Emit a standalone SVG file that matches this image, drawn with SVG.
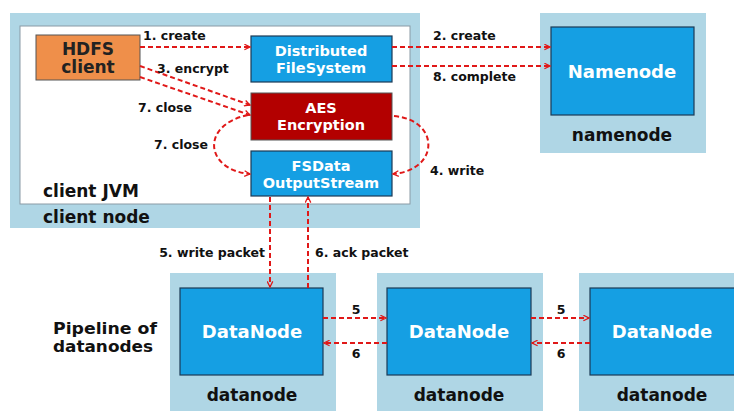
<svg xmlns="http://www.w3.org/2000/svg" width="734" height="411" viewBox="0 0 734 411">
<style>
text{font-family:"DejaVu Sans",Verdana,sans-serif;font-weight:bold}
.outer{fill:#afd6e5}
.blue{fill:#159fe3;stroke:#1c3a55;stroke-width:1.2}
.wt{fill:#fff;font-size:14.5px;text-anchor:middle}
.wb{fill:#fff;font-size:18px;text-anchor:middle}
.lbl{fill:#111;font-size:12.5px}
.big{fill:#111;font-size:17px}
.cn{stroke:#e01818;stroke-width:2;stroke-dasharray:5,3;fill:none;marker-end:url(#ah)}
</style>
<defs>
<marker id="ah" viewBox="0 0 10 10" refX="9" refY="5" markerWidth="7" markerHeight="7" orient="auto" markerUnits="userSpaceOnUse">
<path d="M1,1 L9,5 L1,9" fill="none" stroke="#e01818" stroke-width="1.8"/>
</marker>
</defs>
<rect width="734" height="411" fill="#fff"/>
<g id="client-node">
<rect class="outer" x="10" y="13" width="410" height="215"/>
<rect x="20" y="26" width="390" height="178" fill="#fff" stroke="#8a9aa5" stroke-width="1"/>
<text class="big" x="43" y="197">client JVM</text>
<text class="big" x="43" y="223">client node</text>
</g>
<g id="hdfs-client">
<rect x="36" y="35" width="104" height="45" fill="#ef8f4a" stroke="#555" stroke-width="1"/>
<text x="88" y="55" font-size="17" text-anchor="middle" fill="#222">HDFS</text>
<text x="88" y="73" font-size="17" text-anchor="middle" fill="#222">client</text>
</g>
<g id="distributed-fs">
<rect class="blue" x="251" y="36" width="141" height="46"/>
<text class="wt" x="321" y="56">Distributed</text>
<text class="wt" x="321" y="73">FileSystem</text>
</g>
<g id="aes">
<rect x="251" y="93" width="141" height="47" fill="#b30000" stroke="#555" stroke-width="1"/>
<text class="wt" x="321" y="113">AES</text>
<text class="wt" x="321" y="130">Encryption</text>
</g>
<g id="fsdata">
<rect class="blue" x="251" y="151" width="141" height="45"/>
<text class="wt" x="321" y="171">FSData</text>
<text class="wt" x="321" y="188">OutputStream</text>
</g>
<g id="namenode">
<rect class="outer" x="540" y="13" width="166" height="140"/>
<rect class="blue" x="551" y="27" width="143" height="88"/>
<text class="wb" x="622" y="78">Namenode</text>
<text class="big" x="622" y="141" text-anchor="middle">namenode</text>
</g>
<g id="datanode1">
<rect class="outer" x="170" y="273" width="166" height="145"/>
<rect class="blue" x="180" y="288" width="143" height="87"/>
<text class="wb" x="252" y="338">DataNode</text>
<text class="big" x="252" y="401" text-anchor="middle">datanode</text>
</g>
<g id="datanode2">
<rect class="outer" x="377" y="273" width="166" height="145"/>
<rect class="blue" x="387" y="288" width="144" height="87"/>
<text class="wb" x="459" y="338">DataNode</text>
<text class="big" x="459" y="401" text-anchor="middle">datanode</text>
</g>
<g id="datanode3">
<rect class="outer" x="579" y="273" width="166" height="145"/>
<rect class="blue" x="590" y="288" width="150" height="87"/>
<text class="wb" x="662" y="338">DataNode</text>
<text class="big" x="662" y="401" text-anchor="middle">datanode</text>
</g>
<g id="pipeline-label">
<text x="53" y="334" font-size="15" fill="#111" textLength="104" lengthAdjust="spacingAndGlyphs">Pipeline of</text>
<text x="53" y="352" font-size="15" fill="#111" textLength="100" lengthAdjust="spacingAndGlyphs">datanodes</text>
</g>
<g id="connectors">
<path class="cn" d="M140,47 L250,47"/>
<path class="cn" d="M392,47 L550,47"/>
<path class="cn" d="M392,66 L550,66"/>
<path class="cn" d="M140,66 L250,105"/>
<path class="cn" d="M140,77 L250,115"/>
<path class="cn" d="M248,115 C200,125 205,170 250,174"/>
<path class="cn" d="M394,116 C440,120 440,170 393,174"/>
<path class="cn" d="M270,197 L270,287"/>
<path class="cn" d="M308,288 L308,197"/>
<path class="cn" d="M323,318 L386,318"/>
<path class="cn" d="M387,343 L324,343"/>
<path class="cn" d="M531,318 L589,318"/>
<path class="cn" d="M590,343 L532,343"/>
<text class="lbl" x="143" y="40">1. create</text>
<text class="lbl" x="433" y="40">2. create</text>
<text class="lbl" x="433" y="81">8. complete</text>
<text class="lbl" x="157" y="73">3. encrypt</text>
<text class="lbl" x="138" y="112">7. close</text>
<text class="lbl" x="154" y="149">7. close</text>
<text class="lbl" x="430" y="175">4. write</text>
<text class="lbl" x="265" y="257" text-anchor="end">5. write packet</text>
<text class="lbl" x="315" y="257">6. ack packet</text>
<text class="lbl" x="356" y="314" text-anchor="middle">5</text>
<text class="lbl" x="356" y="358" text-anchor="middle">6</text>
<text class="lbl" x="561" y="314" text-anchor="middle">5</text>
<text class="lbl" x="561" y="358" text-anchor="middle">6</text>
</g>
</svg>
